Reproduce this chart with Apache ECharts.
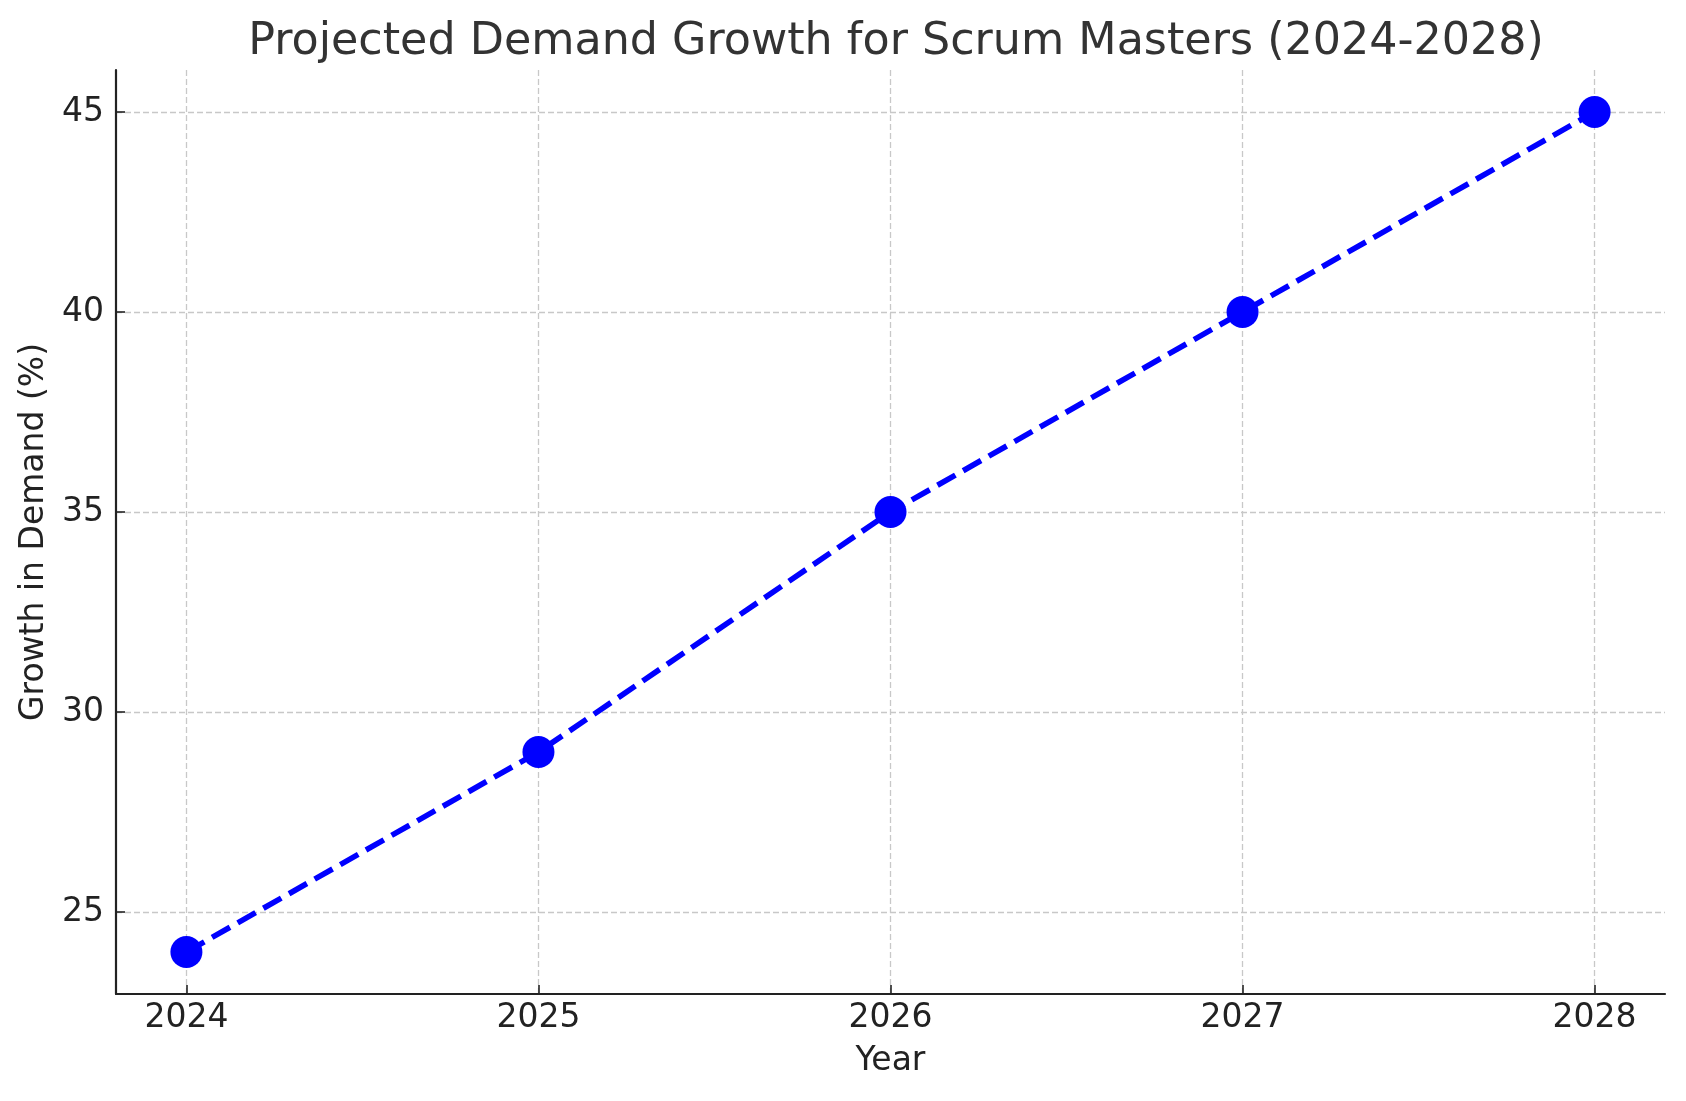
<!DOCTYPE html>
<html>
<head>
<meta charset="utf-8">
<title>Projected Demand Growth for Scrum Masters</title>
<script src="https://cdn.jsdelivr.net/npm/echarts@6/dist/echarts.min.js"></script>
<style>
  html, body { margin: 0; padding: 0; background: #fff; }
  #main { width: 1686px; height: 1101px; }
</style>
</head>
<body>
<div id="main"></div>
<script>
// data
var years = [2024, 2025, 2026, 2027, 2028];
var growth = [24, 29, 35, 40, 45];
var yTicks = [25, 30, 35, 40, 45];

(function() {
  var chartDom = document.getElementById('main');
  var myChart = echarts.init(chartDom, null, { renderer: 'canvas' });
  var option;

  var font = 'DejaVu Sans';
  var gridLine = {
    show: true,
    lineStyle: { color: '#c8c8c8', width: 1.3, type: [6, 3] }
  };

  option = {
    animation: false,
    backgroundColor: '#ffffff',
    textStyle: { fontFamily: font },
    title: {
      text: 'Projected Demand Growth for Scrum Masters (2024-2028)',
      left: 891,
      textAlign: 'center',
      top: 15,
      textStyle: {
        fontFamily: font,
        fontSize: 44.4,
        fontWeight: 'normal',
        color: '#333333'
      }
    },
    grid: {
      left: 116,
      right: 21,
      top: 70,
      bottom: 107,
      containLabel: false,
      outerBoundsMode: 'none'
    },
    xAxis: {
      type: 'value',
      min: 2023.8,
      max: 2028.2,
      name: 'Year',
      nameLocation: 'middle',
      nameGap: 51,
      nameTextStyle: { fontFamily: font, fontSize: 33, color: '#222222' },
      axisLine: { show: true, onZero: false, lineStyle: { color: '#222222', width: 2.2 } },
      axisTick: {
        show: true,
        inside: true,
        length: 9,
        customValues: years,
        lineStyle: { color: '#222222', width: 1.6 }
      },
      axisLabel: {
        customValues: years,
        margin: 8,
        fontFamily: font,
        fontSize: 33,
        color: '#222222',
        formatter: function(v) { return String(v); }
      },
      splitLine: gridLine
    },
    yAxis: {
      type: 'value',
      min: 22.95,
      max: 46.05,
      name: 'Growth in Demand (%)',
      nameLocation: 'middle',
      nameGap: 64,
      nameTextStyle: { fontFamily: font, fontSize: 33, color: '#222222' },
      axisLine: { show: true, onZero: false, lineStyle: { color: '#222222', width: 2.2 } },
      axisTick: {
        show: true,
        inside: true,
        length: 9,
        customValues: yTicks,
        lineStyle: { color: '#222222', width: 1.6 }
      },
      axisLabel: {
        customValues: yTicks,
        margin: 12,
        fontFamily: font,
        fontSize: 33,
        color: '#222222',
        formatter: function(v) { return String(v); }
      },
      splitLine: gridLine
    },
    series: [
      {
        name: 'Growth in Demand (%)',
        type: 'line',
        data: years.map(function(y, i) { return [y, growth[i]]; }),
        symbol: 'circle',
        symbolSize: 32,
        itemStyle: { color: '#0000ff' },
        lineStyle: { color: '#0000ff', width: 5.6, type: [20.6, 8.9] }
      }
    ]
  };

  option && myChart.setOption(option);
  window.addEventListener('resize', function() {
    myChart.resize();
  });
})();
</script>
</body>
</html>
